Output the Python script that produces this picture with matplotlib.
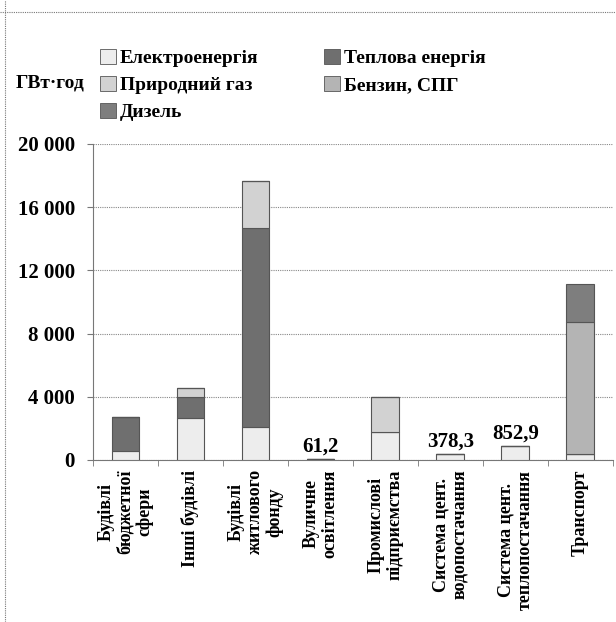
import matplotlib.pyplot as plt
import numpy as np
from matplotlib.patches import Patch
from matplotlib.lines import Line2D

plt.rcParams['font.family'] = ['Liberation Serif', 'DejaVu Serif']
plt.rcParams['font.weight'] = 'bold'

# categories and values (GWh)
categories = ['Будівлі\nбюджетної\nсфери', 'Інші будівлі', 'Будівлі\nжитлового\nфонду',
              'Вуличне\nосвітлення', 'Промислові\nпідприємства', 'Система цент.\nводопостачання',
              'Система цент.\nтеплопостачання', 'Транспорт']
elec = [560, 2650, 2100, 61.2, 1770, 378.3, 852.9, 350]
heat = [2180, 1350, 12600, 0, 0, 0, 0, 0]
gas = [0, 550, 2950, 0, 2200, 0, 0, 0]
petrol = [0, 0, 0, 0, 0, 0, 0, 8400]
diesel = [0, 0, 0, 0, 0, 0, 0, 2400]
series_names = ['Електроенергія', 'Теплова енергія', 'Природний газ', 'Бензин, СПГ', 'Дизель']
value_labels = {3: '61,2', 5: '378,3', 6: '852,9'}

colors = ['#ededed', '#6f6f6f', '#d2d2d2', '#b4b4b4', '#7e7e7e']

fig = plt.figure(figsize=(6.16, 6.22), dpi=100)
ax = fig.add_axes([0.151, 0.2605, 0.844, 0.508])

x = np.arange(len(categories))
bottom = np.zeros(len(categories))
for vals, c in zip([elec, heat, gas, petrol, diesel], colors):
    v = np.array(vals, dtype=float)
    ax.bar(x, v, 0.43, bottom=bottom, color=c, edgecolor='#555555', linewidth=0.8, zorder=3)
    bottom += v

for i, txt in value_labels.items():
    ax.annotate(txt, (x[i], bottom[i]), xytext=(0, 2), textcoords='offset points',
                ha='center', va='bottom', fontsize=15, fontweight='bold')

ax.set_xlim(-0.5, len(categories) - 0.5)
ax.set_ylim(0, 20000)
ax.set_yticks(np.arange(0, 20001, 4000))
ax.set_yticklabels(['0', '4 000', '8 000', '12 000', '16 000', '20 000'], fontsize=15, fontweight='bold')
ax.set_xticks(x)
ax.set_xticklabels(categories, rotation=90, fontsize=13, fontweight='bold', linespacing=1.15,
                   multialignment='center')
ax.set_xticks(np.arange(-0.5, len(categories)), minor=True)
ax.tick_params(axis='x', which='major', length=0, pad=7)
ax.tick_params(axis='x', which='minor', length=4, color='#777777')
ax.tick_params(axis='y', length=4, color='#777777', pad=9)
ax.yaxis.grid(True, linestyle=(0, (1, 1)), color='#888888', linewidth=0.8, zorder=0)

for s in ['top', 'right']:
    ax.spines[s].set_visible(False)
for s in ['left', 'bottom']:
    ax.spines[s].set_linestyle((0, (1, 1)))
    ax.spines[s].set_color('#777777')

order = [0, 2, 4, 1, 3]
handles = [Patch(facecolor=colors[k], edgecolor='#555555', linewidth=0.6) for k in order]
fig.legend(handles, [series_names[k] for k in order], ncol=2, loc='upper left',
           bbox_to_anchor=(0.150, 0.934), frameon=False, fontsize=14,
           handlelength=0.8, handleheight=0.8, handletextpad=0.2,
           columnspacing=3.4, labelspacing=0.45, borderaxespad=0)

fig.text(0.025, 0.866, 'ГВт·год', fontsize=14, fontweight='bold', va='center')

# frame remnants of the scanned page
fig.add_artist(Line2D([0.0, 1.0], [0.981, 0.981], color='#777777', linewidth=0.8,
                      linestyle=(0, (1, 1))))
fig.add_artist(Line2D([0.008, 0.008], [0.0, 1.0], color='#777777', linewidth=0.8,
                      linestyle=(0, (1, 1))))

fig.savefig('out.png', dpi=100)
